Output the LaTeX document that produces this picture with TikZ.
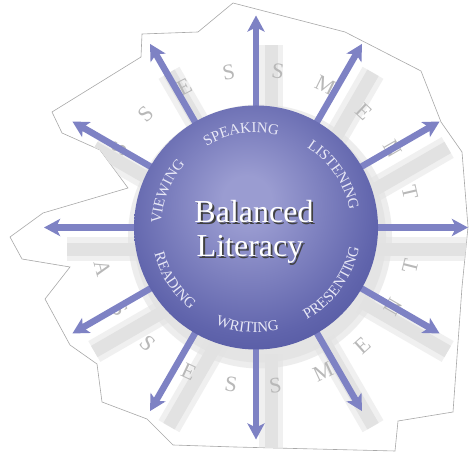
\documentclass[tikz,border=0pt]{standalone}
\usepackage{fontspec}
\setmainfont{Liberation Serif}
\usetikzlibrary{arrows.meta,decorations.text,calc}
\definecolor{arrowblue}{HTML}{7E82C4}
\definecolor{sphin}{HTML}{9A9CD1}
\definecolor{sphmid}{HTML}{6064AC}
\definecolor{sphout}{HTML}{383E8A}
\definecolor{bandgray}{HTML}{E2E2E2}
\definecolor{lettergray}{HTML}{B8B8B8}
\definecolor{edgegray}{HTML}{A8A8A8}
\definecolor{lblcol}{HTML}{E8E8F6}
\pgfdeclareradialshading{sphereshade}{\pgfpoint{-2bp}{6bp}}{color(0bp)=(sphin); color(5bp)=(sphin); color(26bp)=(sphmid); color(46bp)=(sphout); color(75bp)=(sphout)}
\newcommand\lblfont{\fontsize{15}{15}\selectfont\color{lblcol}}
\newcommand\uplabel[2]{\path[decorate, decoration={text along path, text={|\lblfont|#2}, text align=center}] ($(C)+(#1+45:95)$) arc[start angle=#1+45, end angle=#1-45, radius=95];}
\newcommand\lowlabel[2]{\path[decorate, decoration={text along path, text={|\lblfont|#2}, text align=center}] ($(C)+(#1-45:105)$) arc[start angle=#1-45, end angle=#1+45, radius=105];}
\tikzset{
  outline/.style={draw=edgegray, line width=0.6pt, fill=white},
  band/.style={bandgray, line width=13pt},
  bandsoft/.style={bandgray, line width=24pt, opacity=0.5},
  ringletter/.style={text=lettergray, font=\fontsize{22}{22}\selectfont, inner sep=0pt},
  spoke/.style={arrowblue, line width=6.5pt, -{Stealth[length=16pt,width=17pt,inset=4pt]}},
  titletext/.style={text=white, font=\fontsize{32}{34}\selectfont, anchor=base, inner sep=0pt},
  titleshadow/.style={text=black!75, font=\fontsize{32}{34}\selectfont, anchor=base, inner sep=0pt}
}
\begin{document}
\begin{tikzpicture}[x=1pt,y=1pt]
\useasboundingbox (0,0) rectangle (470,454);
\coordinate (C) at (256,226.5);
% paper outline
\draw[outline] (233,451) -- (345,422) -- (421,383) -- (441,332) -- (462,302) -- (468,227) -- (462,167) -- (453,42) -- (398,33) -- (395,3) -- (235,7) -- (173,9) -- (147,35) -- (102,52) -- (97,90) -- (70,109) -- (45,155) -- (70,187) -- (22,195) -- (10,217) -- (43,241) -- (128,266) -- (100,304) -- (62,321) -- (52,342) -- (141,397) -- (142,420) -- (198,422) -- cycle;
\begin{scope}
\clip (233,451) -- (345,422) -- (421,383) -- (441,332) -- (462,302) -- (468,227) -- (462,167) -- (453,42) -- (398,33) -- (395,3) -- (235,7) -- (173,9) -- (147,35) -- (102,52) -- (97,90) -- (70,109) -- (45,155) -- (70,187) -- (22,195) -- (10,217) -- (43,241) -- (128,266) -- (100,304) -- (62,321) -- (52,342) -- (141,397) -- (142,420) -- (198,422) -- cycle;
% shadow bands
\foreach \a in {0,30,...,330} {
  \coordinate (bs\a) at ($(C)+(\a:105)+(15,-22)$);
  \coordinate (be\a) at ($(C)+(\a:204)+(15,-22)$);
  \draw[bandsoft] (bs\a) -- (be\a);
  \draw[band] (bs\a) -- (be\a);
}
% sphere shadow
\fill[bandgray, opacity=0.6] ($(C)+(4,-9)$) circle[radius=132];
\fill[bandgray, opacity=0.8] ($(C)+(4,-9)$) circle[radius=126];
\end{scope}
% ASSESSMENT ring letters
\foreach \a/\l in {150/S,134/S,117/E,100/S,82/S,64/M,47/E,30/N,13/T} {
  \node[ringletter, rotate=\a-90] (u\a) at ($(C)+(\a:158)$) {\l};
}
\foreach \a/\l in {195/A,211/S,227/S,245/E,261/S,277/S,295/M,312/E,330/N,346/T} {
  \node[ringletter, rotate=\a+90] (d\a) at ($(C)+(\a:159)$) {\l};
}
% spokes
\foreach \a in {0,30,...,330} {
  \coordinate (s\a) at ($(C)+(\a:100)$);
  \coordinate (e\a) at ($(C)+(\a:212)$);
  \draw[spoke] (s\a) -- (e\a);
}
% sphere
\node[circle, minimum size=244pt, inner sep=0pt, shading=sphereshade] (sphere) at (C) {};
% title
\node[titleshadow] (t1s) at (255.8,229.2) {Balanced};
\node[titleshadow] (t2s) at (251.8,195.2) {Literacy};
\node[titletext] (t1) at (254,231) {Balanced};
\node[titletext] (t2) at (250,197) {Literacy};
% curved labels
\uplabel{99}{SPEAKING}
\uplabel{34}{LISTENING}
\uplabel{158}{VIEWING}
\lowlabel{213}{READING}
\lowlabel{265}{WRITING}
\lowlabel{324}{PRESENTING}
\end{tikzpicture}
\end{document}
